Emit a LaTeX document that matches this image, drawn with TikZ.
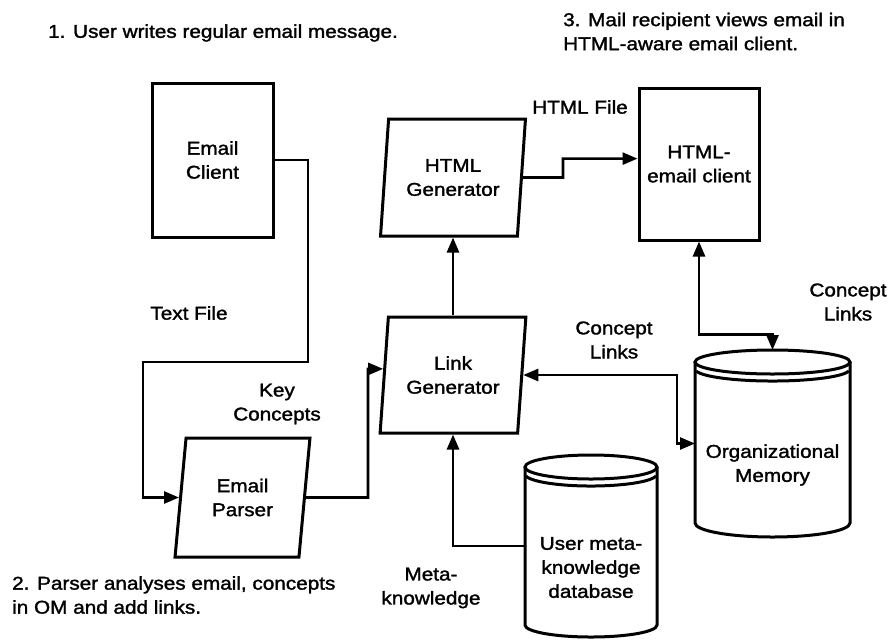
\documentclass[tikz,border=0pt]{standalone}
\usepackage{fontspec}
\setmainfont{Liberation Sans}[FakeStretch=1.12,FakeBold=1.6]
\usetikzlibrary{arrows.meta,shapes.geometric,calc}

\begin{document}
\begin{tikzpicture}[x=1pt,y=-1pt,
  every node/.style={font=\fontsize{18.5}{24}\selectfont,align=center,inner sep=0pt},
  outline/.style={line width=3pt},
  conn/.style={line width=2.6pt},
  onehead/.style={-{Triangle[length=15pt,width=12pt]}},
  twohead/.style={{Triangle[length=15pt,width=12pt]}-{Triangle[length=15pt,width=12pt]}},
  boxnode/.style={outline,draw,rectangle},
  slantnode/.style={outline,draw,trapezium,trapezium left angle=81,
    trapezium right angle=99,trapezium stretches=true},
  bodynode/.style={rectangle,draw=none,outer sep=0pt}]

\useasboundingbox (0,0) rectangle (890,640);

% plain boxes
\node[boxnode,minimum width=121pt,minimum height=154pt] (ec) at (212.5,160) {Email\\Client};
\node[boxnode,minimum width=120pt,minimum height=152pt] (hc) at (699,164) {HTML-\\email client};

% processing steps
\node[slantnode,minimum width=145pt,minimum height=117pt] (hg) at (453,177.5) {HTML\\Generator};
\node[slantnode,minimum width=146pt,minimum height=116pt] (lg) at (453,375) {Link\\Generator};
\node[slantnode,minimum width=135pt,minimum height=119pt] (ep) at (242.5,497.5) {Email\\Parser};

% organizational memory store
\node[bodynode,minimum width=155pt,minimum height=187pt] (om) at (772.5,443.5) {};
\draw[outline] (772.5,362) ellipse [x radius=77.5pt,y radius=12pt];
\draw[outline] (696.2,371.1) arc [start angle=190,end angle=350,x radius=77.5pt,y radius=12pt];
\draw[outline] (695,362) -- (695,523)
  arc [start angle=180,end angle=360,x radius=77.5pt,y radius=14pt] -- (850,362);
\node (omt) at (772.5,465) {Organizational\\Memory};

% user meta-knowledge store
\node[bodynode,minimum width=132pt,minimum height=182pt] (umk) at (591,546) {};
\draw[outline] (591,467) ellipse [x radius=66pt,y radius=12pt];
\draw[outline] (526,476.1) arc [start angle=190,end angle=350,x radius=66pt,y radius=12pt];
\draw[outline] (525,467) -- (525,625)
  arc [start angle=180,end angle=360,x radius=66pt,y radius=12pt] -- (657,467);
\node (umkt) at (591,567.5) {User meta-\\knowledge\\database};

% connectors
\draw[conn,onehead] (ec.east) -| (308,362) -- (143,362) |- (ep.180);
\draw[conn,onehead] (ep.0) -- (368,497.5) |- (lg.175);
\draw[conn,onehead] (lg.90) -- (hg.270);
\draw[conn,onehead] (hg.0) -- (563,177.5) |- (hc.175);
\draw[conn,twohead] (hc.south) -- ++(0,93) -| (om.north);
\coordinate (bend) at (677,443.5);
\draw[conn,twohead] (lg.0) -| (bend) -- (om.west);
\draw[conn,onehead] (umk.west) -| (lg.270);

% connector labels
\node (tf) at (189,313) {Text File};
\node (kc) at (277,404) {Key\\Concepts};
\node (hf) at (580,107) {HTML File};
\node (cl1) at (614,340) {Concept\\Links};
\node (cl2) at (848,302) {Concept\\Links};
\node (mk) at (431,588) {Meta-\\knowledge};

% step captions
\node[anchor=west] (c1) at (48,33) {1. User writes regular email message.};
\node[anchor=west,align=left] (c3) at (563,31.5) {3. Mail recipient views email in\\HTML-aware email client.};
\node[anchor=west,align=left] (c2) at (12,595) {2. Parser analyses email, concepts\\in OM and add links.};
\end{tikzpicture}
\end{document}
